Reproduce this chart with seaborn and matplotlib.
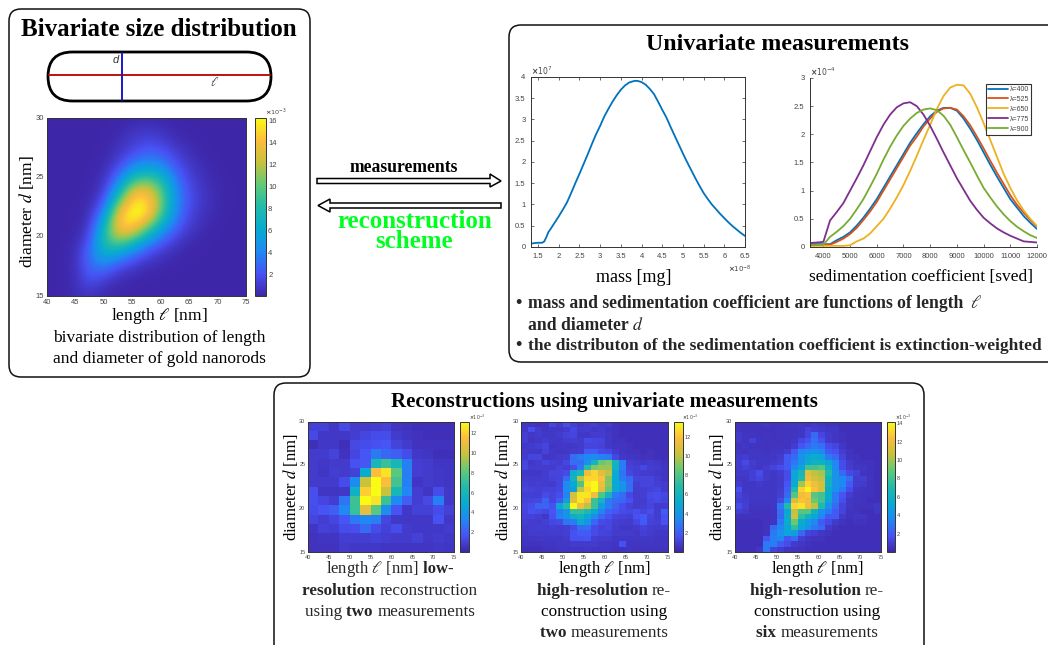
#!/usr/bin/env python3
# -*- coding: utf-8 -*-

import numpy as np
import pandas as pd
import seaborn as sns
import matplotlib.pyplot as plt
from matplotlib.colors import LinearSegmentedColormap
from matplotlib.patches import FancyBboxPatch, Polygon

# smooth density, nodes every 2.5 nm in length (40..75) and 1 nm in diameter (30 down to 15)
true_dist = [
    [.05, .05, .05, .05, .05, .05, .10, .15, .10, .05, .05, .05, .05, .05, .05],
    [.05, .05, .05, .05, .05, .10, .60, .80, .60, .10, .05, .05, .05, .05, .05],
    [.05, .05, .05, .05, .05, .40, 1.0, 1.6, 1.3, .60, .20, .05, .05, .05, .05],
    [.05, .05, .05, .05, .10, .70, 1.8, 2.8, 2.5, 1.3, .50, .10, .05, .05, .05],
    [.05, .05, .05, .05, .20, 1.5, 3.8, 5.0, 4.3, 2.2, .90, .30, .05, .05, .05],
    [.05, .05, .05, .05, .50, 3.0, 7.5, 9.0, 7.5, 3.4, 1.3, .50, .10, .05, .05],
    [.05, .05, .05, .05, .90, 5.5, 12.5, 13.5, 10., 4.3, 1.7, .70, .20, .05, .05],
    [.05, .05, .05, .20, 1.8, 9.5, 15.5, 15.5, 11., 4.6, 1.8, .80, .20, .05, .05],
    [.05, .05, .05, .40, 3.8, 13.5, 16.5, 16., 10., 4.2, 1.5, .60, .15, .05, .05],
    [.05, .05, .05, .80, 6.5, 14.5, 15.5, 12., 6.8, 3.0, 1.1, .40, .05, .05, .05],
    [.05, .05, .10, 1.5, 8.0, 12.5, 11., 6.8, 3.6, 1.6, .50, .10, .05, .05, .05],
    [.05, .05, .30, 2.8, 7.5, 7.5, 5.2, 2.8, 1.4, .50, .10, .05, .05, .05, .05],
    [.05, .05, .40, 3.0, 5.0, 3.4, 1.9, .90, .40, .10, .05, .05, .05, .05, .05],
    [.05, .05, .40, 2.6, 2.4, 1.0, .50, .15, .05, .05, .05, .05, .05, .05, .05],
    [.05, .05, .40, 1.6, .70, .25, .05, .05, .05, .05, .05, .05, .05, .05, .05],
    [.05, .05, .30, .70, .20, .05, .05, .05, .05, .05, .05, .05, .05, .05, .05],
]

low_res = [
    [1.0, 1.0, .7, 1.3, .8, .8, .9, 1.0, .6, .5, .4, .4, .4, .4],
    [1.3, .7, .7, .7, .9, 1.2, 1.4, 1.4, .8, .6, .5, .4, .4, .4],
    [.4, .7, .7, .4, 1.3, 1.4, 1.6, 1.8, 1.1, .8, .5, .5, .5, .5],
    [.8, .8, 1.1, .5, 1.2, 1.8, 2.8, 2.3, 2.0, 1.4, .7, .6, .4, .4],
    [.8, .7, .8, .8, 1.6, 1.8, 6.0, 7.2, 6.0, 3.0, .9, .8, .6, .6],
    [.8, .6, .9, .8, 1.0, 5.0, 11.5, 12.5, 8.0, 3.0, .9, .8, .7, .6],
    [.8, .8, .8, 1.4, 3.5, 10., 13.5, 11.5, 7.5, 3.0, .6, .8, .7, .6],
    [1.5, .6, .6, .7, 5.5, 12., 13.5, 10., 6.0, 3.2, .9, .6, 1.4, .7],
    [1.5, 1.2, .9, 2.7, 7.3, 13.3, 12.5, 7.3, 3.4, 2.0, .9, 1.3, 3.0, .7],
    [1.4, 1.7, 2.0, 3.3, 7.2, 10.8, 8.0, 3.6, 1.7, .7, 1.0, 1.0, 1.4, 1.0],
    [1.2, .9, 1.2, 1.8, 2.8, 3.2, 3.0, 1.2, .7, .7, .7, .7, 1.6, .7],
    [.6, 1.0, .9, 1.4, 1.5, 2.4, 1.4, 1.0, 1.4, .8, .7, .7, .7, .8],
    [.5, .6, .6, .9, .9, .9, 1.0, .9, .8, .8, 1.0, .7, .8, .7],
    [.5, .5, .5, .8, .7, .7, .7, .6, .6, .6, .6, .6, .7, .6],
]

high_two = [
    [.6, .6, .5, .6, 1.3, .8, 1.5, 1.0, .7, .8, 1.0, .7, .8, .5, .4, .4, .4, .4, .4, .4, .4],
    [.7, 1.5, .8, .6, .7, .7, .8, 1.3, .8, .9, .7, .8, .6, .5, .4, .4, .4, .4, .4, .4, .4],
    [1.0, .7, .8, .7, .7, .8, 1.1, 1.2, .7, .7, .9, .9, .7, .5, .4, .4, .4, .4, .4, .4, .4],
    [1.0, .6, .7, .9, .7, .7, .9, 1.0, .8, 1.4, 1.3, 1.2, .7, .5, .5, .4, .4, .4, .4, .4, .4],
    [.7, .8, 1.0, 1.2, .6, .7, .7, .7, .8, 1.2, 1.2, 1.1, .7, .6, .6, .5, .4, .4, .4, .4, .4],
    [.8, .7, .7, 1.1, .7, .6, .7, .8, .9, 2.0, 2.0, 1.4, 1.3, .8, .6, .5, .5, .4, .5, .4, .4],
    [.9, 1.2, 1.2, .7, .7, .8, .9, 2.5, 3.0, 3.3, 3.5, 3.2, 3.0, 1.3, .7, .6, .6, .5, .5, .4, .4],
    [1.2, .7, .9, 1.2, 1.0, .9, 1.3, 2.6, 2.5, 3.8, 6.0, 8.5, 9.0, 6.0, 3.0, 1.0, .8, .7, .8, .7, .5],
    [1.3, .8, .9, .9, .9, 1.1, 1.0, 1.5, 2.9, 7.0, 9.0, 9.5, 9.5, 5.8, 3.0, 1.1, 1.0, 1.3, .9, .8, .6],
    [.7, .7, .7, .9, 1.2, 1.2, 1.4, 5.5, 6.5, 11.5, 12.5, 11., 10., 5.2, 2.8, 1.3, 1.0, .9, .8, .7, .6],
    [.8, .8, .8, .9, 1.1, 1.2, 2.5, 6.0, 10., 12.5, 12.5, 12., 9.0, 5.0, 3.0, 2.4, 1.2, 1.2, 1.2, .9, .6],
    [1.0, .9, 1.0, .9, .8, 1.2, 3.5, 5.0, 8.0, 13., 13.5, 11.5, 9.0, 5.0, 4.0, 2.5, 1.0, 1.2, 1.2, 1.0, .8],
    [1.2, 1.1, 1.0, 1.1, 1.1, 1.3, 3.5, 4.5, 10., 12.5, 13.5, 11., 8.5, 5.0, 4.0, 2.5, .9, 1.0, 1.1, 1.3, .8],
    [1.0, 1.0, 1.0, 1.4, 1.2, 1.5, 3.2, 10.5, 13., 13., 11.5, 8.0, 6.0, 3.0, 2.5, 1.3, .9, 1.0, 1.4, 1.5, 1.3],
    [1.1, 1.2, 1.3, 2.2, 1.2, 2.0, 4.5, 11., 13., 12., 7.5, 6.0, 3.0, 2.5, 2.3, 1.6, .9, .9, 1.3, 1.4, 1.2],
    [1.3, 1.5, 2.2, 2.2, 1.6, 5.0, 7.0, 13.5, 11.5, 10., 7.5, 4.5, 3.0, 2.2, 1.5, 1.1, .9, 1.0, 1.2, .8, .9],
    [1.2, 1.6, 1.5, 1.3, 1.8, 3.0, 4.0, 7.3, 7.3, 6.5, 5.0, 3.2, 2.2, 1.8, 1.4, 1.3, 1.5, 1.2, 1.5, .9, 2.0],
    [1.1, 1.1, 1.0, .7, 1.6, 3.2, 4.0, 5.5, 6.0, 5.0, 3.5, 2.4, 1.6, 1.2, 1.1, 1.0, 1.6, 2.0, 1.2, .9, 1.6],
    [1.0, .9, .8, 1.0, 1.3, 1.4, 2.8, 3.0, 5.0, 4.0, 2.3, 1.4, 1.3, 1.0, .9, .8, 1.3, 2.0, 1.1, 1.0, 1.6],
    [.8, .9, 1.0, .9, 1.0, .9, 1.0, 1.4, 2.5, 2.6, 1.4, 1.1, 1.3, .9, .7, .7, .8, 1.1, .9, .8, .9],
    [.7, .8, .8, .8, .9, .9, 1.0, 1.6, 2.0, 2.0, 1.4, 1.2, 1.1, .8, .8, .8, .7, 1.0, .8, .7, .7],
    [.6, .6, .7, .7, .7, .7, .8, 1.6, 1.6, 1.7, 1.0, .9, .9, .7, .7, .7, .7, .7, .7, .6, .6],
    [.5, .5, .5, .6, .6, .7, .7, .8, .8, .8, .8, .7, .7, .6, 1.6, .6, .6, .6, .6, .6, .6],
    [.4, .4, .4, .5, .5, .6, .6, .6, .6, .7, .6, .6, .6, .5, .5, .6, .5, .5, .5, .5, .5],
]

high_six = [
    [.6, .5, .5, .6, .7, .5, .6, .7, .7, .7, .6, .8, .7, .5, .5, .4, .4, .4, .4, .4, .4],
    [.6, .5, .5, .5, .5, .5, .6, .6, .6, .7, 1.2, .9, .8, .7, .7, .4, .4, .4, .4, .4, .4],
    [.8, .6, .6, .5, .6, .5, .6, .6, .6, .7, 1.3, 2.5, 1.3, .8, .7, .5, .4, .4, .4, .4, .4],
    [.8, .6, 1.1, .6, .6, .5, .5, .6, .7, 1.3, 1.7, 2.8, 1.7, .8, .7, .5, .4, .4, .4, .4, .4],
    [.6, .7, .6, .6, .5, .6, .6, .6, .9, 1.8, 2.5, 3.0, 2.8, 1.6, 1.3, .7, .4, .4, .4, .4, .4],
    [.7, .6, .7, .7, .6, .7, .7, .9, 2.0, 3.5, 3.8, 4.0, 3.5, 2.0, 1.7, .9, .5, .4, .4, .4, .4],
    [.8, .9, .7, .7, .7, .7, .9, 2.0, 2.5, 4.0, 5.0, 5.5, 5.0, 3.0, 2.5, 1.2, .6, .5, .4, .4, .4],
    [.9, 1.4, .9, .7, .7, .8, 1.0, 2.0, 3.0, 4.0, 5.5, 6.0, 6.0, 5.0, 3.5, 1.5, .8, .6, .5, .5, .4],
    [.8, 1.1, .8, .7, .9, 1.2, 1.5, 2.0, 3.5, 5.0, 8.0, 8.0, 8.5, 6.0, 3.5, 1.5, .9, .7, .7, .5, .4],
    [.8, .8, 1.0, 1.5, .8, .7, .9, 1.5, 5.0, 6.5, 11.5, 10.5, 10., 7.0, 4.0, 2.5, 1.4, 1.1, .6, .5, .4],
    [.7, .7, 1.0, 1.3, .8, .7, .8, 1.5, 5.0, 7.0, 12., 11., 10.5, 6.0, 4.0, 3.5, 2.7, .9, 1.0, .6, .4],
    [.9, .7, .7, .8, .7, .7, .8, 1.8, 5.5, 10., 13., 12., 11., 6.0, 4.0, 3.5, 2.0, .9, .8, .5, .4],
    [1.7, .7, .7, .7, .7, .7, .9, 2.2, 7.0, 13., 14., 12.5, 11., 5.5, 4.0, 3.0, 1.5, .7, .6, .5, .4],
    [1.2, .8, .7, .7, .7, .7, 1.0, 2.5, 8.5, 12., 12.5, 8.5, 8.0, 5.5, 3.0, 1.8, .9, .6, .5, .5, .4],
    [1.0, .9, .7, .7, .7, .7, 1.4, 3.5, 11., 12.5, 12., 9.0, 8.0, 5.0, 3.0, 1.6, .7, .6, .5, .4, .4],
    [1.5, 1.0, .6, .6, .6, .7, 3.0, 7.0, 13., 13.5, 12., 10.5, 7.0, 4.0, 2.5, 1.2, .7, .5, .5, .5, .7],
    [1.0, .8, .5, .5, .5, .6, 2.7, 5.0, 10.5, 8.5, 8.5, 6.0, 4.0, 3.0, 2.0, 1.2, .5, .5, .4, .4, .7],
    [.5, .5, .5, .5, .5, .6, 2.5, 5.5, 11., 7.5, 6.0, 5.0, 3.5, 2.0, 2.0, .8, .5, .7, .7, .4, .4],
    [.4, .4, .4, .4, .5, .6, 3.0, 5.5, 9.0, 5.5, 4.5, 3.5, 2.0, 1.4, .8, .5, .4, .5, .5, .4, .4],
    [.4, .4, .4, .4, .5, 2.5, 3.5, 5.0, 7.5, 5.0, 4.0, 3.0, 2.5, .8, .5, .4, .4, .4, .4, .4, .4],
    [.4, .4, .4, .4, .6, 3.0, 4.0, 5.0, 4.7, 2.5, 1.2, 1.0, .7, .5, .4, .4, .4, .4, .4, .4, .4],
    [.4, .4, .4, .4, 1.8, 3.3, 3.5, 1.8, 2.5, 1.0, .7, .6, .5, .4, .4, .4, .4, .4, .4, .4, .4],
    [.4, .4, .4, .4, 3.0, 3.2, 2.0, 1.5, .8, .7, .5, .4, .4, .4, .4, .4, .4, .4, .4, .4, .4],
    [.4, .4, .4, .7, 3.0, 1.2, .9, .6, .5, .5, .4, .4, .4, .4, .4, .4, .4, .4, .4, .4, .4],
]

# mass curve (x in 1e-8 mg, y in 1e7)
mass_x = [1.33, 1.4, 1.5, 1.6, 1.65, 1.7, 1.75, 1.8, 1.9, 2.0, 2.1, 2.2, 2.3, 2.4, 2.5, 2.6, 2.7, 2.8,
          2.9, 3.0, 3.1, 3.2, 3.3, 3.4, 3.5, 3.6, 3.7, 3.8, 3.85, 3.9, 4.0, 4.1, 4.2, 4.3, 4.4, 4.5,
          4.6, 4.7, 4.8, 4.9, 5.0, 5.1, 5.2, 5.3, 5.4, 5.5, 5.6, 5.7, 5.8, 5.9, 6.0, 6.1, 6.2, 6.3,
          6.4, 6.5]
mass_y = [.08, .09, .10, .10, .13, .23, .35, .42, .57, .72, .88, 1.05, 1.27, 1.5, 1.72, 1.95, 2.18, 2.42,
          2.65, 2.85, 3.07, 3.25, 3.42, 3.57, 3.70, 3.80, 3.87, 3.90, 3.91, 3.91, 3.88, 3.82, 3.72, 3.60,
          3.42, 3.23, 3.05, 2.83, 2.62, 2.41, 2.20, 2.0, 1.81, 1.62, 1.44, 1.27, 1.13, 1.0, .89, .78,
          .68, .58, .49, .41, .33, .26]

# sedimentation curves (y in 1e-4)
sed_x = [3500, 4000, 4250, 4500, 4750, 5000, 5250, 5500, 5750, 6000, 6250, 6500, 6750, 7000, 7250, 7500,
         7750, 8000, 8250, 8500, 8750, 9000, 9250, 9500, 9750, 10000, 10250, 10500, 10750, 11000,
         11250, 11500, 11750, 12000]
sed_400 = [.05, .05, .05, .12, .18, .26, .38, .52, .68, .85, 1.05, 1.25, 1.45, 1.65, 1.85, 2.02, 2.18,
           2.32, 2.42, 2.47, 2.47, 2.42, 2.28, 2.10, 1.90, 1.68, 1.46, 1.25, 1.05, .85, .70, .55, .43, .32]
sed_525 = [.04, .04, .04, .09, .15, .23, .34, .48, .63, .80, 1.0, 1.20, 1.40, 1.60, 1.80, 1.96, 2.14,
           2.28, 2.40, 2.46, 2.47, 2.44, 2.32, 2.16, 1.96, 1.75, 1.53, 1.32, 1.12, .92, .75, .61, .48, .36]
sed_650 = [.02, .02, .02, .02, .02, .03, .10, .15, .24, .37, .50, .68, .88, 1.10, 1.35, 1.62, 1.90,
           2.17, 2.45, 2.68, 2.83, 2.88, 2.87, 2.72, 2.48, 2.20, 1.90, 1.60, 1.30, 1.05, .83, .65, .50, .37]
sed_775 = [.07, .09, .47, .62, .78, 1.0, 1.22, 1.45, 1.70, 1.95, 2.17, 2.35, 2.48, 2.55, 2.57, 2.50, 2.35,
           2.15, 1.92, 1.68, 1.45, 1.22, 1.02, .82, .66, .52, .42, .33, .26, .20, .15, .10, .09, .08]
sed_900 = [.03, .04, .18, .27, .37, .50, .67, .85, 1.07, 1.30, 1.55, 1.78, 1.98, 2.15, 2.28, 2.38, 2.44,
           2.46, 2.43, 2.33, 2.17, 1.95, 1.72, 1.50, 1.27, 1.05, .88, .72, .58, .46, .36, .28, .21, .16]
sed_labels = ['λ=400', 'λ=525', 'λ=650', 'λ=775', 'λ=900']

length_ticks = [40, 45, 50, 55, 60, 65, 70, 75]
diameter_ticks = [15, 20, 25, 30]

W, H = 1048, 645
TICK = '#444444'

sns.set_theme(style='white')
plt.rcParams['font.family'] = ['Liberation Serif', 'DejaVu Serif']
plt.rcParams['mathtext.fontset'] = 'stix'

parula = LinearSegmentedColormap.from_list('parula', [
    (0, (.2422, .1504, .6603)), (.125, (.2810, .3228, .9579)), (.25, (.12, .54, .95)),
    (.375, (.03, .67, .82)), (.5, (.13, .73, .67)), (.625, (.38, .79, .47)),
    (.75, (.78, .76, .24)), (.875, (.99, .74, .24)), (1, (.9769, .9839, .0805))])
line_colors = ['#0072BD', '#D95319', '#EDB120', '#7E2F8E', '#77AC30']


def px_axes(x0, y0, x1, y1):
    return fig.add_axes([x0 / W, 1 - y1 / H, (x1 - x0) / W, (y1 - y0) / H])


def matlab_box(ax, size=5.5, ticklen=2.5, pad=2):
    for s in ax.spines.values():
        s.set_visible(True)
        s.set_color('#333333')
        s.set_linewidth(.7)
    ax.tick_params(direction='in', length=ticklen, width=.5, color='#333333', labelsize=size,
                   labelcolor=TICK, top=True, right=True, bottom=True, left=True, pad=pad)
    for lab in ax.get_xticklabels() + ax.get_yticklabels():
        lab.set_family('Liberation Sans')
        lab.set_rotation(0)


def power_label(ax, x, y, exp, size=5.5):
    # the small x10^n note that matlab puts at the end of an axis
    ax.text(x, y, r'$\mathbf{\times}10^{%d}$' % exp, transform=ax.transAxes, fontsize=size, color=TICK,
            ha='left', va='bottom', math_fontfamily='dejavusans')


def grid_heatmap(values, box, cbar_box, vmax, cbar_ticks, smooth=False, size=5.5):
    ax = px_axes(*box)
    cax = px_axes(*cbar_box)
    values = np.array(values)
    sns.heatmap(values, ax=ax, cbar_ax=cax, cmap=parula, vmin=0, vmax=vmax,
                cbar_kws={'ticks': cbar_ticks})
    nrow, ncol = values.shape
    if smooth:
        # values sit on grid nodes, let the image smooth between them
        ax.imshow(values, cmap=parula, vmin=0, vmax=vmax, aspect='auto', interpolation='bicubic', zorder=2)
        ncol, nrow = ncol - 1, nrow - 1
    ax.set_xlim(0, ncol)
    ax.set_ylim(nrow, 0)
    ax.set_xticks([(t - 40) / 35 * ncol for t in length_ticks])
    ax.set_xticklabels([str(t) for t in length_ticks])
    ax.set_yticks([(30 - t) / 15 * nrow for t in diameter_ticks])
    ax.set_yticklabels([str(t) for t in diameter_ticks])
    matlab_box(ax, size)
    cax.tick_params(direction='in', length=2, width=.5, color='#333333', labelsize=size,
                    labelcolor=TICK, right=True, left=True, pad=1.5)
    for lab in cax.get_yticklabels():
        lab.set_family('Liberation Sans')
    cbar = ax.collections[0].colorbar
    cbar.outline.set_visible(True)
    cbar.outline.set_edgecolor('#333333')
    cbar.outline.set_linewidth(.7)
    power_label(cax, .95, 1.0, -3, size * .85)
    return ax


def serif(x, y, s, size, weight='normal', color='black', ha='center', va='center'):
    return page.text(x, y, s, fontsize=size, fontweight=weight, color=color, ha=ha, va=va)


def mixed(cx, y, runs, size):
    # one centred line of normal and bold pieces
    items = [page.text(0, y, s, fontsize=size, fontweight=w, ha='left', va='center') for s, w in runs]
    rend = fig.canvas.get_renderer()
    widths = [t.get_window_extent(rend).width for t in items]
    x = cx - sum(widths) / 2
    for t, w in zip(items, widths):
        t.set_x(x)
        x += w


fig = plt.figure(figsize=(W / 100, H / 100), dpi=100)
page = fig.add_axes([0, 0, 1, 1])
page.set_xlim(0, W)
page.set_ylim(H, 0)
page.axis('off')

# panel frames
for x0, y0, x1, y1 in [(9, 9, 310, 377), (509, 25, 1060, 362), (274, 383, 924, 660)]:
    page.add_patch(FancyBboxPatch((x0 + 12, y0 + 12), x1 - x0 - 24, y1 - y0 - 24,
                                  boxstyle='round,pad=12,rounding_size=12', fc='none',
                                  ec='#111111', lw=1.1, clip_on=False))

serif(159, 30, 'Bivariate size distribution', 18, 'bold')
serif(778, 45, 'Univariate measurements', 17.2, 'bold')
serif(604, 402, 'Reconstructions using univariate measurements', 15, 'bold')

# nanorod sketch
page.add_patch(FancyBboxPatch((48, 52), 223, 49, boxstyle='round,pad=0,rounding_size=24.5',
                              fc='none', ec='black', lw=2))
page.plot([49, 270], [74.5, 74.5], color='#c01010', lw=1.4)
page.plot([122, 122], [53, 100], color='#1a1ac8', lw=1.4)
page.text(116, 60, 'd', fontsize=8, style='italic', family='Liberation Sans', color='#333333',
          ha='center', va='center')
page.text(215, 82, r'$\ell$', fontsize=9, color='#333333', ha='center', va='center')

# arrows between the panels
for pts in [[(317, 178.5), (490, 178.5), (490, 174), (501, 181), (490, 187), (490, 183.5), (317, 183.5)],
            [(501, 203), (330, 203), (330, 199), (318, 205.5), (330, 212), (330, 208), (501, 208)]]:
    page.add_patch(Polygon(pts, closed=True, fc='white', ec='black', lw=1.1))
serif(404, 168, 'measurements', 12.7, 'bold')
serif(414.5, 221, 'reconstruction', 18, 'bold', color='#00ff21')
serif(414.5, 242, 'scheme', 18, 'bold', color='#00ff21')

# top left density
grid_heatmap(true_dist, (47, 118, 246, 296), (254.5, 118, 266, 296), 16.2,
             [2, 4, 6, 8, 10, 12, 14, 16], smooth=True)
serif(26, 212, r'diameter $d$ [nm]', 12.5).set_rotation(90)
serif(159, 316, r'length $\ell$ [nm]', 12.5)
serif(159, 338, 'bivariate distribution of length', 12.5)
serif(159, 359, 'and diameter of gold nanorods', 12.5)

# mass curve
ax_mass = px_axes(531, 77, 745, 247)
sns.lineplot(x=mass_x, y=mass_y, color=line_colors[0], lw=1.3, ax=ax_mass)
ax_mass.set_xlim(1.33, 6.5)
ax_mass.set_ylim(0, 4)
ax_mass.set_xticks([1.5, 2, 2.5, 3, 3.5, 4, 4.5, 5, 5.5, 6, 6.5])
ax_mass.set_xticklabels(['1.5', '2', '2.5', '3', '3.5', '4', '4.5', '5', '5.5', '6', '6.5'])
ax_mass.set_yticks([0, .5, 1, 1.5, 2, 2.5, 3, 3.5, 4])
ax_mass.set_yticklabels(['0', '0.5', '1', '1.5', '2', '2.5', '3', '3.5', '4'])
matlab_box(ax_mass, 5.5, pad=4)
power_label(ax_mass, 0, 1.0, 7, 5.5)
power_label(ax_mass, .92, -.165, -8, 5)
serif(634, 277, 'mass [mg]', 13)

# sedimentation curves
ax_sed = px_axes(810, 78, 1037, 247)
sed_df = pd.DataFrame({'x': sed_x, 'λ=400': sed_400, 'λ=525': sed_525, 'λ=650': sed_650,
                       'λ=775': sed_775, 'λ=900': sed_900})
for lab, col in zip(sed_labels, line_colors):
    sns.lineplot(data=sed_df, x='x', y=lab, color=col, lw=1.3, label=lab, ax=ax_sed)
ax_sed.set_xlabel('')
ax_sed.set_ylabel('')
ax_sed.set_xlim(3500, 12000)
ax_sed.set_ylim(0, 3)
ax_sed.set_xticks(range(4000, 12001, 1000))
ax_sed.set_yticks([0, .5, 1, 1.5, 2, 2.5, 3])
ax_sed.set_yticklabels(['0', '0.5', '1', '1.5', '2', '2.5', '3'])
matlab_box(ax_sed, 5.5, pad=4)
ax_sed.spines['top'].set_visible(False)
ax_sed.spines['right'].set_visible(False)
ax_sed.tick_params(top=False, right=False)
power_label(ax_sed, 0, 1.0, -4, 5.5)
leg = ax_sed.legend(loc='upper left', bbox_to_anchor=(.776, .965), borderaxespad=0, fontsize=5,
                    frameon=True, fancybox=False, edgecolor='#333333', framealpha=1,
                    handlelength=2.9, labelspacing=.42, handletextpad=.2, borderpad=.3)
leg.get_frame().set_linewidth(.8)
for t in leg.get_texts():
    t.set_family('Liberation Sans')
    t.set_color(TICK)
serif(921, 277, 'sedimentation coefficient [sved]', 12.5)

page.text(515, 304, '•', fontsize=13, fontweight='bold', va='center')
page.text(528, 304, 'mass and sedimentation coefficient are functions of length', fontsize=12.7,
          fontweight='bold', va='center')
page.text(970, 304, r'$\ell$', fontsize=12.7, va='center')
page.text(528, 325, 'and diameter', fontsize=12.7, fontweight='bold', va='center')
page.text(632, 325, r'$d$', fontsize=12.7, va='center')
page.text(515, 346, '•', fontsize=13, fontweight='bold', va='center')
page.text(528, 346, 'the distributon of the sedimentation coefficient is extinction-weighted',
          fontsize=12.5, fontweight='bold', va='center')

# reconstructions
grid_heatmap(low_res, (308, 421.5, 454, 552), (460, 421.5, 469, 552), 13.2, [2, 4, 6, 8, 10, 12], size=4)
serif(290.5, 487, r'diameter $d$ [nm]', 12).set_rotation(90)
mixed(390, 569, [(r'length $\ell$ [nm]', 'normal'), (' low-', 'bold')], 12)
mixed(390, 591, [('resolution ', 'bold'), ('reconstruction', 'normal')], 12.3)
mixed(390, 612, [('using ', 'normal'), ('two ', 'bold'), ('measurements', 'normal')], 12.3)

grid_heatmap(high_two, (521.3, 421.5, 667.7, 552), (673.7, 421.5, 682.7, 552), 13.6, [2, 4, 6, 8, 10, 12], size=4)
serif(503, 487, r'diameter $d$ [nm]', 12).set_rotation(90)
serif(604, 569, r'length $\ell$ [nm]', 12)
mixed(604, 591, [('high-resolution ', 'bold'), ('re-', 'normal')], 12.3)
serif(604, 612, 'construction using', 12.3)
mixed(604, 633, [('two ', 'bold'), ('measurements', 'normal')], 12.3)

grid_heatmap(high_six, (735, 421.5, 881, 552), (887.3, 421.5, 895, 552), 14.2, [2, 4, 6, 8, 10, 12, 14], size=4)
serif(717, 487, r'diameter $d$ [nm]', 12).set_rotation(90)
serif(817, 569, r'length $\ell$ [nm]', 12)
mixed(817, 591, [('high-resolution ', 'bold'), ('re-', 'normal')], 12.3)
serif(817, 612, 'construction using', 12.3)
mixed(817, 633, [('six ', 'bold'), ('measurements', 'normal')], 12.3)

fig.savefig('out.png', dpi=100)
